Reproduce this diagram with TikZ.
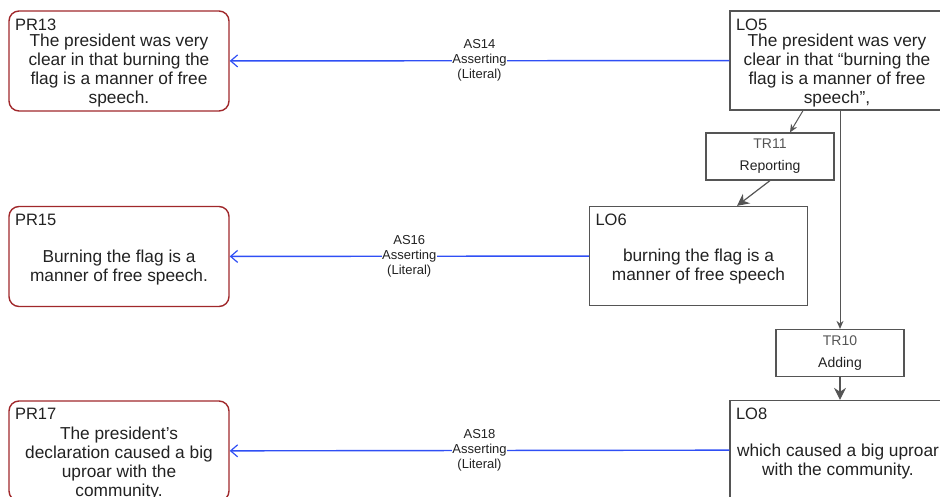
\documentclass[tikz,border=0pt]{standalone}
\usepackage{fontspec}
\setmainfont{Liberation Sans}
\usepackage{tikz}
\usepackage{xcolor}
\usetikzlibrary{positioning,arrows.meta,calc}
\definecolor{prred}{HTML}{A0282B}
\definecolor{logray}{HTML}{555555}
\definecolor{asblue}{HTML}{2F4FF5}
\definecolor{txtdark}{HTML}{222222}

\begin{document}
\begin{tikzpicture}[x=1pt, y=-1pt,
    prbox/.style={draw=prred, line width=1.4pt, rounded corners=10pt, minimum width=220pt, minimum height=100pt, inner sep=0pt},
    lobox/.style={draw=logray, line width=1.3pt, minimum width=218pt, minimum height=99pt, inner sep=0pt},
    trbox/.style={draw=logray, line width=1.2pt, minimum width=128pt, minimum height=47pt, align=center, inner sep=0pt, font=\fontsize{14}{22}\selectfont, text=txtdark},
    idlab/.style={anchor=north west, inner sep=0pt, xshift=6.5pt, yshift=-8pt, font=\fontsize{16.5}{18}\selectfont, text=txtdark},
    bodytxt/.style={align=center, inner sep=0pt, font=\fontsize{17.3}{19}\selectfont, text=txtdark},
    asline/.style={draw=asblue, line width=1.4pt, -{Straight Barb[length=7pt, width=12pt, line width=1.2pt]}},
    aslab/.style={fill=white, align=center, inner sep=0.5pt, font=\fontsize{13}{15}\selectfont, text=txtdark},
    trsmall/.style={draw=logray, line width=1pt, -{Stealth[length=8pt, width=7pt]}},
    trbig/.style={draw=logray, line width=1.2pt, -{Stealth[length=12pt, width=12pt]}}]
  \useasboundingbox (0,0) rectangle (940,497);
  \clip (0,0) rectangle (940,497);

  % propositions (left column)
  \node[prbox, label={[idlab]north west:PR13}] (PR13) at (119,61) {};
  \node[bodytxt] (PR13txt) at ([yshift=-10pt]PR13.center) {The president was very\\clear in that burning the\\flag is a manner of free\\speech.};
  \node[prbox, label={[idlab]north west:PR15}] (PR15) at (119,256.5) {};
  \node[bodytxt] (PR15txt) at ([yshift=-11pt]PR15.center) {Burning the flag is a\\manner of free speech.};
  \node[prbox, label={[idlab]north west:PR17}] (PR17) at (119,451) {};
  \node[bodytxt] (PR17txt) at ([yshift=-13pt]PR17.center) {The president's\\declaration caused a big\\uproar with the\\community.};

  % locutions (right)
  \node[lobox, label={[idlab]north west:LO5}] (LO5) at (839,60.5) {};
  \node[bodytxt] (LO5txt) at ([yshift=-10pt,xshift=-2pt]LO5.center) {The president was very\\clear in that “burning the\\flag is a manner of free\\speech”,};
  \node[lobox, label={[idlab]north west:LO6}] (LO6) at (698.5,256) {};
  \node[bodytxt] (LO6txt) at ([yshift=-11pt]LO6.center) {burning the flag is a\\manner of free speech};
  \node[lobox, label={[idlab]north west:LO8}] (LO8) at (839,450) {};
  \node[bodytxt] (LO8txt) at ([yshift=-12pt,xshift=-1pt]LO8.center) {which caused a big uproar\\with the community.};

  % transitions
  \node[trbox] (TR11) at (770,156.5) {\textcolor{logray}{TR11}\\Reporting};
  \node[trbox] (TR10) at (840,353) {\textcolor{logray}{TR10}\\Adding};

  % asserting edges
  \draw[asline] (LO5) -- node[aslab] (AS14) {AS14\\Asserting\\(Literal)} (PR13);
  \draw[asline] (LO6) -- node[aslab] (AS16) {AS16\\Asserting\\(Literal)} (PR15);
  \draw[asline] (LO8) -- node[aslab] (AS18) {AS18\\Asserting\\(Literal)} (PR17);

  % transition edges
  \draw[trsmall] ([xshift=-36pt]LO5.south) -- ([xshift=20pt]TR11.north);
  \draw[trbig] (TR11.south) -- ([xshift=38.5pt]LO6.north);
  \draw[trsmall] (LO5.south -| TR10.north) -- (TR10.north);
  \draw[trbig] (TR10.south) -- (TR10.south |- LO8.north);
\end{tikzpicture}
\end{document}
